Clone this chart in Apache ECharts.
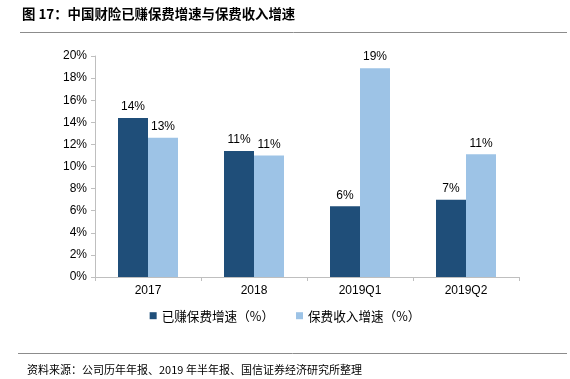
<!DOCTYPE html>
<html><head><meta charset="utf-8">
<script src="https://cdn.jsdelivr.net/npm/echarts@6/dist/echarts.min.js"></script>
<style>html,body{margin:0;padding:0;background:#fff}#c{width:570px;height:379px}</style>
</head><body><div id="c"></div>
<script>
var categories = ['2017', '2018', '2019Q1', '2019Q2'];
var earnedGrowth = [14.4, 11.4, 6.4, 7.0];
var premiumGrowth = [12.6, 11.0, 18.9, 11.1];
var seriesNames = ['已赚保费增速（%）', '保费收入增速（%）'];
var yTicks = [0, 2, 4, 6, 8, 10, 12, 14, 16, 18, 20];
var titleText = '图 17：中国财险已赚保费增速与保费收入增速';
var sourceText = '资料来源：公司历年年报、2019 年半年报、国信证券经济研究所整理';

var chart = echarts.init(document.getElementById('c'));
var font = 'Liberation Sans, Arial, sans-serif';
var cjk = '"Noto Sans CJK SC", sans-serif';
function lbl() {
  return { show: true, position: 'top', distance: 5, color: '#000', fontFamily: font, fontSize: 12,
    formatter: function (p) { return Math.round(p.value) + '%'; } };
}
chart.setOption({
  animation: false,
  graphic: [
    { type: 'text', left: 22, top: 7, style: { text: titleText, fontFamily: cjk, fontWeight: 'bold', fontSize: 13.4, fill: '#000' } },
    { type: 'line', shape: { x1: 20, y1: 32.5, x2: 567, y2: 32.5 }, style: { stroke: '#8c8c8c', lineWidth: 1 } },
    { type: 'line', shape: { x1: 18, y1: 353.5, x2: 567, y2: 353.5 }, style: { stroke: '#8c8c8c', lineWidth: 1 } },
    { type: 'text', left: 27, top: 364, style: { text: sourceText, fontFamily: cjk, fontSize: 11, fill: '#000' } }
  ],
  grid: { left: 95, right: 51, top: 56, bottom: 102 },
  legend: {
    bottom: 52, left: 'center', itemWidth: 7, itemHeight: 7, itemGap: 22,
    icon: 'rect',
    textStyle: { fontFamily: cjk, fontSize: 12.6, color: '#000' },
    data: seriesNames
  },
  xAxis: {
    type: 'category', data: categories,
    axisLine: { lineStyle: { color: '#bfbfbf' } },
    axisTick: { show: true, length: 4, lineStyle: { color: '#bfbfbf' } },
    axisLabel: { color: '#000', fontFamily: font, fontSize: 12, margin: 8 }
  },
  yAxis: {
    type: 'value', min: yTicks[0], max: yTicks[yTicks.length - 1], interval: 2,
    axisLine: { show: true, lineStyle: { color: '#bfbfbf' } },
    axisTick: { show: true, length: 4, lineStyle: { color: '#bfbfbf' } },
    splitLine: { show: false },
    axisLabel: { color: '#000', fontFamily: font, fontSize: 12, margin: 8, formatter: '{value}%' }
  },
  series: [
    { name: seriesNames[0], type: 'bar', data: earnedGrowth, barWidth: 30, barGap: '0%',
      itemStyle: { color: '#1f4e79' }, label: lbl() },
    { name: seriesNames[1], type: 'bar', data: premiumGrowth, barWidth: 30,
      itemStyle: { color: '#9dc3e6' }, label: lbl() }
  ]
});
</script></body></html>
